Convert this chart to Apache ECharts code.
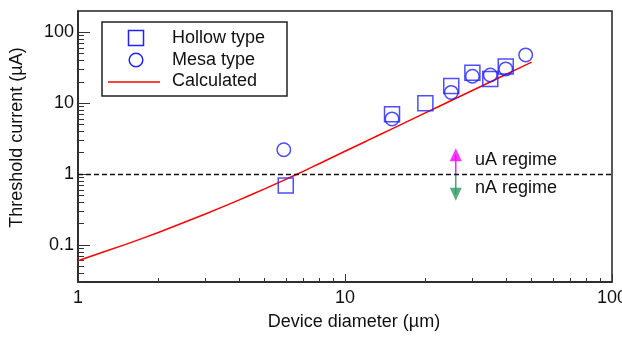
<!DOCTYPE html>
<html>
<head>
<meta charset="utf-8">
<script src="https://cdn.jsdelivr.net/npm/echarts@6/dist/echarts.min.js"></script>
<style>
  html, body { margin: 0; padding: 0; background: #fff; }
  #chart { width: 622px; height: 338px; }
</style>
</head>
<body>
<div id="chart"></div>
<script>
// device diameter (um) / threshold current (uA)
const hollowX = [6.0, 15, 20, 25, 30, 35, 40];
const hollowY = [0.69, 7.0, 10, 17.5, 27, 22, 33];
const mesaX = [5.9, 15, 25, 30, 35, 40, 47.5];
const mesaY = [2.2, 6.0, 14.2, 24, 25, 30.5, 48];
const calcX = [1, 1.5, 2, 3, 4, 5, 6, 7, 8, 10, 12, 15, 20, 25, 30, 40, 50];
const calcY = [0.06, 0.101, 0.15, 0.273, 0.429, 0.619, 0.843, 1.1, 1.4, 2.1, 2.91, 4.35, 7.3, 10.9, 15.1, 25.4, 38];

const xMajor = [1, 10, 100];
const xMinor = [2, 3, 4, 5, 6, 7, 8, 9, 20, 30, 40, 50, 60, 70, 80, 90];
const yMajor = [0.1, 1, 10, 100];
const yMinor = [0.03, 0.04, 0.05, 0.06, 0.07, 0.08, 0.09, 0.2, 0.3, 0.4, 0.5, 0.6, 0.7, 0.8, 0.9,
  2, 3, 4, 5, 6, 7, 8, 9, 20, 30, 40, 50, 60, 70, 80, 90];

// regime arrows, at x = 26
const arrowX = 26;
const upArrow = [1, 1.87];
const downArrow = [1, 0.52];

const BLUE = '#2222ff';
const FONT = 'Liberation Sans, Arial, sans-serif';

const chart = echarts.init(document.getElementById('chart'));

function pairs(xs, ys) {
  return xs.map((x, i) => [x, ys[i]]);
}

const tickStyle = { color: '#333', width: 1 };

chart.setOption({
  animation: false,
  textStyle: { fontFamily: FONT },
  grid: {
    left: 78, top: 11, width: 534, height: 271,
    containLabel: false, outerBoundsMode: 'none',
    show: true, borderColor: '#222', borderWidth: 1.5
  },
  xAxis: [{
    type: 'log', logBase: 10, min: 1, max: 100, position: 'bottom',
    name: 'Device diameter (\u00b5m)', nameLocation: 'middle', nameGap: 31,
    nameTextStyle: { fontSize: 18, color: '#111', fontFamily: FONT, padding: [0, 0, 0, 18] },
    axisLine: { lineStyle: { color: '#222', width: 1.5 } },
    axisTick: { inside: true, length: 8, lineStyle: tickStyle, customValues: xMajor },
    axisLabel: { fontSize: 18, color: '#111', margin: 7, customValues: xMajor },
    splitLine: { show: false }
  }, {
    type: 'log', logBase: 10, min: 1, max: 100, position: 'bottom',
    axisLine: { show: false },
    axisTick: { inside: true, length: 4, lineStyle: tickStyle, customValues: xMinor },
    axisLabel: { show: false },
    splitLine: { show: false }
  }],
  yAxis: [{
    type: 'log', logBase: 10, min: 0.03, max: 200, position: 'left',
    name: 'Threshold current (\u00b5A)', nameLocation: 'middle', nameGap: 52,
    nameTextStyle: { fontSize: 18, color: '#111', fontFamily: FONT, padding: [0, 0, 0, 18] },
    axisLine: { lineStyle: { color: '#222', width: 1.5 } },
    axisTick: { inside: true, length: 12, lineStyle: tickStyle, customValues: yMajor },
    axisLabel: { fontSize: 18, color: '#111', margin: 4, customValues: yMajor },
    splitLine: { show: false }
  }, {
    type: 'log', logBase: 10, min: 0.03, max: 200, position: 'left',
    axisLine: { show: false },
    axisTick: { inside: true, length: 6, lineStyle: tickStyle, customValues: yMinor },
    axisLabel: { show: false },
    splitLine: { show: false }
  }],
  series: [{
    name: 'Calculated',
    type: 'line',
    data: pairs(calcX, calcY),
    smooth: 0.2,
    showSymbol: false,
    lineStyle: { color: '#ff0000', width: 1.5 },
    z: 3,
    markLine: {
      silent: true,
      symbol: 'none',
      label: { show: false },
      lineStyle: { color: '#111', type: [5, 3], width: 1.3 },
      data: [{ yAxis: 1 }]
    }
  }, {
    name: 'Hollow type',
    type: 'scatter',
    symbol: 'rect',
    symbolSize: 15,
    data: pairs(hollowX, hollowY),
    itemStyle: { color: 'rgba(0,0,0,0)', borderColor: BLUE, borderWidth: 1.5 },
    z: 4
  }, {
    name: 'Mesa type',
    type: 'scatter',
    symbol: 'circle',
    symbolSize: 13.5,
    data: pairs(mesaX, mesaY),
    itemStyle: { color: 'rgba(0,0,0,0)', borderColor: BLUE, borderWidth: 1.5 },
    z: 4
  }, {
    type: 'line',
    data: upArrow.map(v => [arrowX, v]),
    showSymbol: false,
    lineStyle: { color: '#ff00ff', width: 1.3 },
    silent: true
  }, {
    type: 'scatter',
    symbol: 'triangle',
    symbolSize: [12, 13],
    data: [[arrowX, upArrow[1]]],
    itemStyle: { color: '#ff00ff' },
    silent: true
  }, {
    type: 'line',
    data: downArrow.map(v => [arrowX, v]),
    showSymbol: false,
    lineStyle: { color: '#2e9a63', width: 1.3 },
    silent: true
  }, {
    type: 'scatter',
    symbol: 'triangle',
    symbolRotate: 180,
    symbolSize: [12, 13],
    data: [[arrowX, downArrow[1]]],
    itemStyle: { color: '#2e9a63' },
    silent: true
  }],
  graphic: [
    // legend box
    { type: 'rect', shape: { x: 102, y: 22, width: 185, height: 74 },
      style: { fill: '#fff', stroke: '#222', lineWidth: 1.5 }, z: 10 },
    { type: 'rect', shape: { x: 128.5, y: 30.5, width: 15, height: 15 },
      style: { fill: 'none', stroke: BLUE, lineWidth: 1.5 }, z: 11 },
    { type: 'circle', shape: { cx: 136, cy: 60, r: 6.8 },
      style: { fill: 'none', stroke: BLUE, lineWidth: 1.5 }, z: 11 },
    { type: 'line', shape: { x1: 108, y1: 82, x2: 160, y2: 82 },
      style: { stroke: '#ff0000', lineWidth: 1.5 }, z: 11 },
    { type: 'text', x: 172, y: 38, z: 11,
      style: { text: 'Hollow type', font: '18px ' + FONT, fill: '#111', verticalAlign: 'middle' } },
    { type: 'text', x: 172, y: 60, z: 11,
      style: { text: 'Mesa type', font: '18px ' + FONT, fill: '#111', verticalAlign: 'middle' } },
    { type: 'text', x: 172, y: 81.5, z: 11,
      style: { text: 'Calculated', font: '18px ' + FONT, fill: '#111', verticalAlign: 'middle' } },
    // regime notes
    { type: 'text', x: 475, y: 160, z: 11,
      style: { text: 'uA regime', font: '18px ' + FONT, fill: '#111', verticalAlign: 'middle' } },
    { type: 'text', x: 475, y: 188, z: 11,
      style: { text: 'nA regime', font: '18px ' + FONT, fill: '#111', verticalAlign: 'middle' } }
  ]
});
</script>
</body>
</html>
